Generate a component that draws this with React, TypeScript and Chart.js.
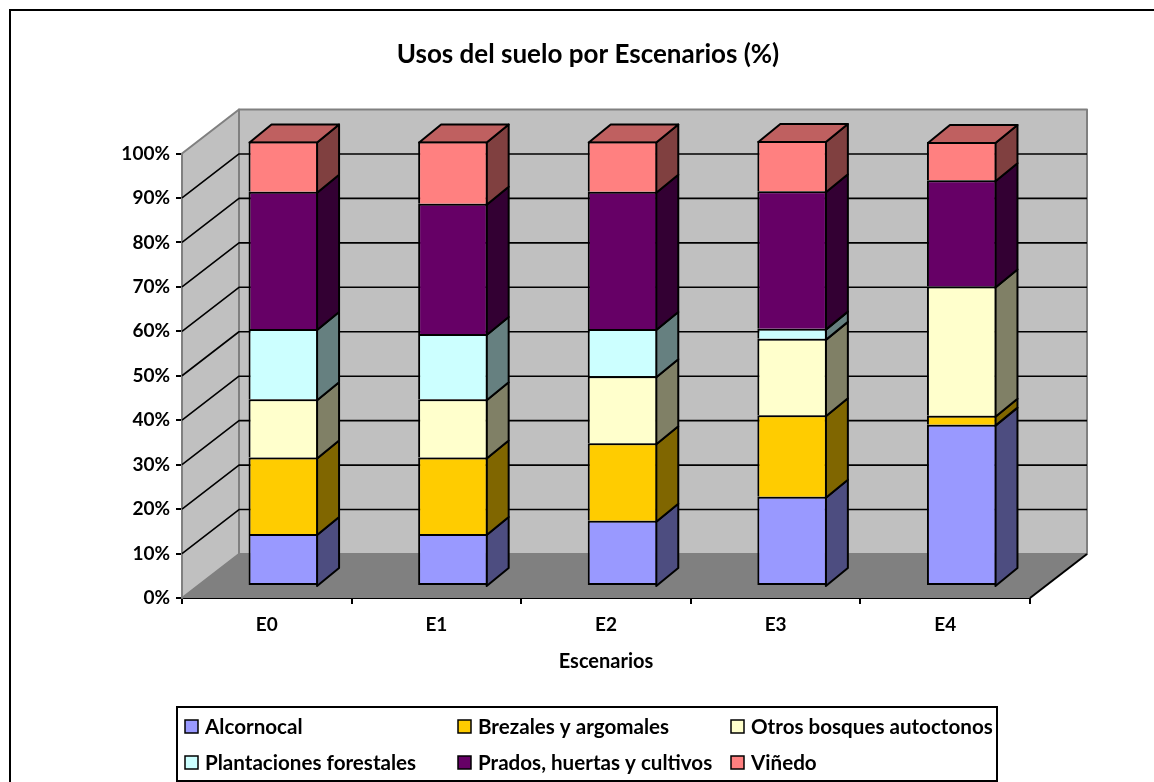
import React, { useEffect, useRef } from "react";
import { Chart, registerables } from "chart.js";

Chart.register(...registerables);

const categories = ["E0", "E1", "E2", "E3", "E4"];
const alcornocal = [11.7, 11.7, 14.7, 20.1, 36.3];
const brezales = [17.2, 17.2, 17.4, 18.3, 2.0];
const otrosBosques = [13.1, 13.1, 15.1, 17.2, 29.1];
const plantaciones = [15.8, 14.7, 10.6, 2.3, 0];
const prados = [30.9, 29.3, 30.9, 30.9, 23.9];
const vinedo = [11.3, 14.0, 11.3, 11.3, 8.6];

const seriesNames = [
  "Alcornocal",
  "Brezales y argomales",
  "Otros bosques autoctonos",
  "Plantaciones forestales",
  "Prados, huertas y cultivos",
  "Viñedo",
];
const seriesValues = [alcornocal, brezales, otrosBosques, plantaciones, prados, vinedo];
const frontColors = ["#9999FF", "#FFCC00", "#FFFFCC", "#CCFFFF", "#660066", "#FF8080"];
const sideColors = ["#4D4D80", "#806600", "#808066", "#668080", "#330033", "#804040"];
const topColor = "#BF6060";

const FONT = "Lato, sans-serif";
const CANVAS_W = 1176;
const CANVAS_H = 800;
const AXIS_LEFT = 182;
const AXIS_RIGHT = 1030;
const AXIS_BOTTOM = 598;

// Oblique projection: wall depth and the depth at which the columns stand.
const WALL_DX = 57;
const WALL_DY = 44;
const BAR_DX = 16.5;
const BAR_DY = 12;
const BAR_DEPTH_X = 22;
const BAR_DEPTH_Y = 18;

const poly = (ctx: CanvasRenderingContext2D, pts: number[][], fill: string | null, stroke: string | null, lw = 2) => {
  ctx.beginPath();
  pts.forEach(([x, y], i) => (i ? ctx.lineTo(x, y) : ctx.moveTo(x, y)));
  ctx.closePath();
  if (fill) {
    ctx.fillStyle = fill;
    ctx.fill();
  }
  if (stroke) {
    ctx.strokeStyle = stroke;
    ctx.lineWidth = lw;
    ctx.lineJoin = "round";
    ctx.stroke();
  }
};

const framePlugin = {
  id: "frame",
  // The title is centred on the whole frame, not on the plot
  afterLayout(chart: any) {
    const block = chart.titleBlock;
    if (block) {
      block.left = 0;
      block.right = chart.width;
      block.width = chart.width;
    }
  },
  beforeDraw(chart: any) {
    const { ctx } = chart;
    ctx.save();
    ctx.fillStyle = "#FFFFFF";
    ctx.fillRect(0, 0, chart.width, chart.height);
    ctx.strokeStyle = "#000000";
    ctx.lineWidth = 2;
    ctx.strokeRect(10, 10, chart.width + 20, chart.height + 20);
    ctx.restore();
  },
};

const wallsPlugin = {
  id: "walls",
  beforeDatasetsDraw(chart: any) {
    const { ctx, chartArea: a, scales } = chart;
    const y = scales.y;
    const y0 = y.getPixelForValue(0);
    const y100 = y.getPixelForValue(100);
    ctx.save();
    // Back wall, side wall and floor
    poly(ctx, [[a.left + WALL_DX, y100 - WALL_DY], [a.right + WALL_DX, y100 - WALL_DY], [a.right + WALL_DX, y0 - WALL_DY], [a.left + WALL_DX, y0 - WALL_DY]], "#C0C0C0", "#808080");
    poly(ctx, [[a.left, y100], [a.left + WALL_DX, y100 - WALL_DY], [a.left + WALL_DX, y0 - WALL_DY], [a.left, y0]], "#C0C0C0", "#808080");
    poly(ctx, [[a.left, y0], [a.left + WALL_DX, y0 - WALL_DY], [a.right + WALL_DX, y0 - WALL_DY], [a.right, y0]], "#808080", null);
    // Gridlines folded along both walls
    ctx.strokeStyle = "#000000";
    ctx.lineWidth = 1.6;
    y.ticks.forEach((t: any) => {
      if (t.value === 0 || t.value === 100) return;
      const py = y.getPixelForValue(t.value);
      ctx.beginPath();
      ctx.moveTo(a.left, py);
      ctx.lineTo(a.left + WALL_DX, py - WALL_DY);
      ctx.lineTo(a.right + WALL_DX, py - WALL_DY);
      ctx.stroke();
    });
    // Open edge of the floor on the right
    ctx.lineWidth = 2;
    ctx.beginPath();
    ctx.moveTo(a.right, y0);
    ctx.lineTo(a.right + WALL_DX, y0 - WALL_DY);
    ctx.stroke();

    // Side faces of every column segment, then the cap of the top one
    const metas = chart.getSortedVisibleDatasetMetas();
    categories.forEach((_, c) => {
      metas.forEach((meta: any, s: number) => {
        const el = meta.data[c];
        if (seriesValues[s][c] <= 0) return;
        const right = el.x + el.width / 2 + BAR_DX - 1;
        const top = el.y - BAR_DY + 1;
        const base = el.base - BAR_DY + 1;
        poly(ctx, [[right, top], [right + BAR_DEPTH_X, top - BAR_DEPTH_Y], [right + BAR_DEPTH_X, base - BAR_DEPTH_Y], [right, base]], sideColors[s], "#000000");
        if (s === metas.length - 1) {
          const left = el.x - el.width / 2 + BAR_DX + 1;
          poly(ctx, [[left, top], [left + BAR_DEPTH_X, top - BAR_DEPTH_Y], [right + BAR_DEPTH_X, top - BAR_DEPTH_Y], [right, top]], topColor, "#000000");
        }
      });
    });
    ctx.restore();
  },
  // Front faces stand a little behind the axis plane
  beforeDatasetDraw(chart: any) {
    chart.ctx.save();
    chart.ctx.translate(BAR_DX, -BAR_DY);
  },
  afterDatasetDraw(chart: any) {
    chart.ctx.restore();
  },
};

const legendPlugin = {
  id: "boxLegend",
  afterDraw(chart: any) {
    const { ctx } = chart;
    const columns = [185, 458, 731];
    const rows = [726, 762];
    ctx.save();
    ctx.fillStyle = "#FFFFFF";
    ctx.fillRect(177, 707, 820, 74);
    ctx.strokeStyle = "#000000";
    ctx.lineWidth = 2;
    ctx.strokeRect(177, 707, 820, 74);
    ctx.font = `bold 20.6px ${FONT}`;
    ctx.textBaseline = "middle";
    ctx.textAlign = "left";
    seriesNames.forEach((name, i) => {
      const x = columns[i % 3];
      const y = rows[Math.floor(i / 3)];
      ctx.fillStyle = frontColors[i];
      ctx.fillRect(x, y - 6, 13, 13);
      ctx.lineWidth = 1.5;
      ctx.strokeRect(x, y - 6, 13, 13);
      ctx.fillStyle = "#000000";
      ctx.fillText(name, x + 20, y + 1);
    });
    ctx.restore();
  },
};

export default function App() {
  const ref = useRef<HTMLCanvasElement | null>(null);
  useEffect(() => {
    if (!ref.current) return;
    const chart = new Chart(ref.current, {
      type: "bar",
      data: {
        labels: categories,
        datasets: seriesValues.map((values, i) => ({
          label: seriesNames[i],
          data: values,
          backgroundColor: frontColors[i],
          borderColor: "#000000",
          borderWidth: 2,
          borderSkipped: i === 0 ? false : "start",
          barPercentage: 0.41,
          categoryPercentage: 1,
          clip: false,
        })),
      } as any,
      options: {
        animation: false,
        responsive: false,
        layout: {
          autoPadding: false,
          padding: { left: 0, top: 0, right: CANVAS_W - AXIS_RIGHT, bottom: CANVAS_H - 674 },
        },
        plugins: {
          legend: { display: false },
          tooltip: { enabled: false },
          title: {
            display: true,
            text: "Usos del suelo por Escenarios (%)",
            color: "#000000",
            font: { family: FONT, size: 26, weight: "bold", lineHeight: 1.2 },
            padding: { top: 39.4, bottom: 82.9 },
          },
        },
        scales: {
          x: {
            stacked: true,
            afterFit: (s: any) => {
              s.height = 674 - AXIS_BOTTOM;
            },
            border: { color: "#000000", width: 2 },
            grid: { drawOnChartArea: false, drawTicks: true, tickLength: 6, color: "#000000", lineWidth: 2 },
            ticks: { color: "#000000", padding: 9, font: { family: FONT, size: 19, weight: "bold" } },
            title: {
              display: true,
              text: "Escenarios",
              color: "#000000",
              font: { family: FONT, size: 20, weight: "bold" },
              padding: { top: 0, bottom: 0 },
            },
          },
          y: {
            stacked: true,
            min: 0,
            max: 100,
            afterFit: (s: any) => {
              s.width = AXIS_LEFT;
            },
            border: { color: "#000000", width: 2 },
            grid: { drawOnChartArea: false, drawTicks: true, tickLength: 6, color: "#000000", lineWidth: 2 },
            ticks: {
              stepSize: 10,
              color: "#000000",
              padding: 6,
              font: { family: FONT, size: 19, weight: "bold" },
              callback: (v: any) => `${v}%`,
            },
          },
        },
      } as any,
      plugins: [framePlugin, wallsPlugin, legendPlugin],
    });
    return () => chart.destroy();
  }, []);
  return (
    <div style={{ position: "fixed", left: 0, top: 0, width: 1154, height: 782, overflow: "hidden", background: "#fff" }}>
      <canvas ref={ref} width={CANVAS_W} height={CANVAS_H} style={{ display: "block" }} />
    </div>
  );
}
